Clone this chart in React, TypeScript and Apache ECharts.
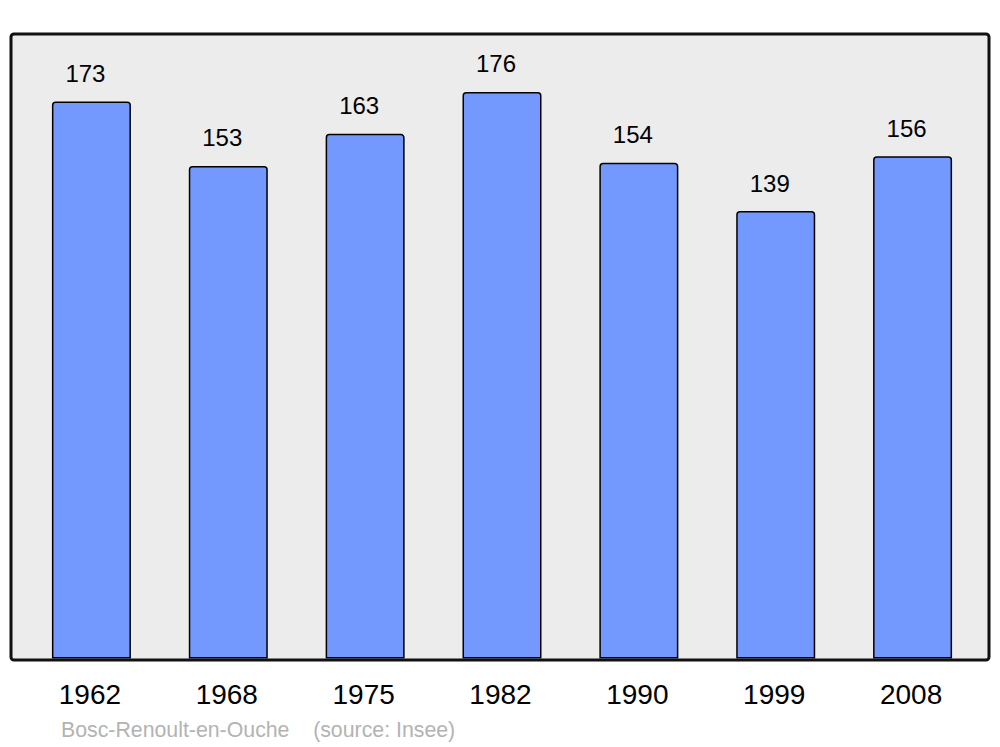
import React, { useEffect, useRef } from "react";
import * as echarts from "echarts";

const years = ["1962", "1968", "1975", "1982", "1990", "1999", "2008"];
const population = [173, 153, 163, 176, 154, 139, 156];
const footerText = "Bosc-Renoult-en-Ouche    (source: Insee)";

export default function App() {
  const ref = useRef<HTMLDivElement>(null);
  useEffect(() => {
    if (!ref.current) return;
    const chart = echarts.init(ref.current, undefined, { renderer: "svg" });
    chart.setOption({
      animation: false,
      backgroundColor: "#ffffff",
      textStyle: { fontFamily: "Liberation Sans, Arial, sans-serif" },
      graphic: [
        {
          type: "rect",
          z: -10,
          shape: { x: 11, y: 34, width: 978, height: 626, r: 3 },
          style: { fill: "#ececec", stroke: "none" },
        },
        {
          type: "rect",
          z: 100,
          shape: { x: 11, y: 34, width: 978, height: 626, r: 3 },
          style: { fill: "none", stroke: "#111111", lineWidth: 3 },
        },
        {
          type: "text",
          x: 61,
          y: 730,
          style: {
            text: footerText,
            fill: "#b3b3b3",
            fontSize: 21.3,
            fontFamily: "Liberation Sans, Arial, sans-serif",
            verticalAlign: "middle",
            align: "left",
          },
        },
      ],
      grid: { left: 23, right: 19, top: 34, bottom: 88.5, containLabel: false },
      xAxis: {
        type: "category",
        data: years,
        axisLine: { show: false },
        axisTick: { show: false },
        axisLabel: {
          color: "#000000",
          fontSize: 28,
          lineHeight: 28,
          margin: 22,
          padding: [0, 3, 0, 0],
          fontFamily: "Liberation Sans, Arial, sans-serif",
        },
      },
      yAxis: {
        type: "value",
        min: 0,
        max: 194,
        show: false,
        splitLine: { show: false },
      },
      series: [
        {
          type: "bar",
          data: population,
          barWidth: 79,
          itemStyle: {
            color: "#7399ff",
            borderColor: "#000000",
            borderWidth: 1.5,
            borderRadius: [3, 3, 0, 0],
          },
          label: {
            show: true,
            position: "top",
            distance: 16,
            offset: [-6, 0],
            color: "#000000",
            fontSize: 24,
            lineHeight: 24,
            fontFamily: "Liberation Sans, Arial, sans-serif",
          },
        },
      ],
    });
    return () => chart.dispose();
  }, []);
  return (
    <div
      ref={ref}
      style={{ position: "fixed", left: 0, top: 0, width: 1000, height: 747 }}
    />
  );
}
